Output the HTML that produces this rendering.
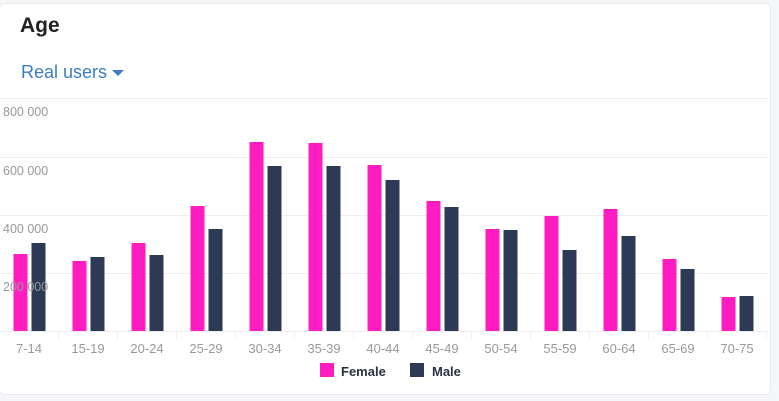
<!DOCTYPE html><html><head><style>
body{margin:0;width:779px;height:401px;background:#f5f6f8;font-family:"Liberation Sans",sans-serif;overflow:hidden;position:relative}
.card{position:absolute;left:-1px;top:3px;width:770px;height:390px;background:#fff;border:1px solid #e8eaee;border-radius:5px}
</style></head><body>
<div class="card"></div>
<div style="position:absolute;left:20px;top:14px;font-size:21px;font-weight:bold;color:#222">Age</div>
<div style="position:absolute;left:21px;top:62px;font-size:18px;color:#3b7dc4">Real users <span style="display:inline-block;width:0;height:0;border-left:6px solid transparent;border-right:6px solid transparent;border-top:6px solid #3b7dc4;vertical-align:middle"></span></div>
<svg style="position:absolute;left:0;top:0" width="779" height="401" font-family="Liberation Sans,sans-serif">
<g stroke="#eceef2" stroke-width="1">
<line x1="0" x2="768" y1="98.5" y2="98.5"/><line x1="0" x2="768" y1="157.5" y2="157.5"/><line x1="0" x2="768" y1="215.5" y2="215.5"/><line x1="0" x2="768" y1="273.5" y2="273.5"/><line x1="0" x2="768" y1="331.5" y2="331.5"/>
</g>
<g id="bars"></g>
<g fill="#999" font-size="12.5">
<text x="3" y="116">800 000</text><text x="3" y="175">600 000</text><text x="3" y="233">400 000</text><text x="3" y="291">200 000</text>
</g>
<g id="ticks" stroke="#eceef2"></g>
<g id="labels" fill="#999" font-size="13" text-anchor="middle"></g>
<rect x="320" y="363" width="14" height="14" fill="#ff1cc0"/><text x="341" y="376" font-size="13" font-weight="bold" fill="#2a3140">Female</text>
<rect x="410" y="363" width="14" height="14" fill="#2c3a56"/><text x="432" y="376" font-size="13" font-weight="bold" fill="#2a3140">Male</text>
</svg>
<script>
var L=["7-14","15-19","20-24","25-29","30-34","35-39","40-44","45-49","50-54","55-59","60-64","65-69","70-75"];
var F=[254,261,243,206,142,143,165,201,229,216,209,259,297],M=[243,257,255,229,166,166,180,207,230,250,236,269,296];
var b="",t="",l="";
for(var i=0;i<13;i++){var s=59*i-0.5;
b+='<rect x="'+(s+14)+'" y="'+F[i]+'" width="14" height="'+(331-F[i])+'" fill="#ff1cc0"/>';
b+='<rect x="'+(s+32)+'" y="'+M[i]+'" width="14" height="'+(331-M[i])+'" fill="#2c3a56"/>';
t+='<line x1="'+(s+59)+'" x2="'+(s+59)+'" y1="331" y2="339"/>';
l+='<text x="'+(s+29.5)+'" y="353">'+L[i]+'</text>';}
document.getElementById("bars").innerHTML=b;document.getElementById("ticks").innerHTML=t;document.getElementById("labels").innerHTML=l;
</script>
</body></html>
